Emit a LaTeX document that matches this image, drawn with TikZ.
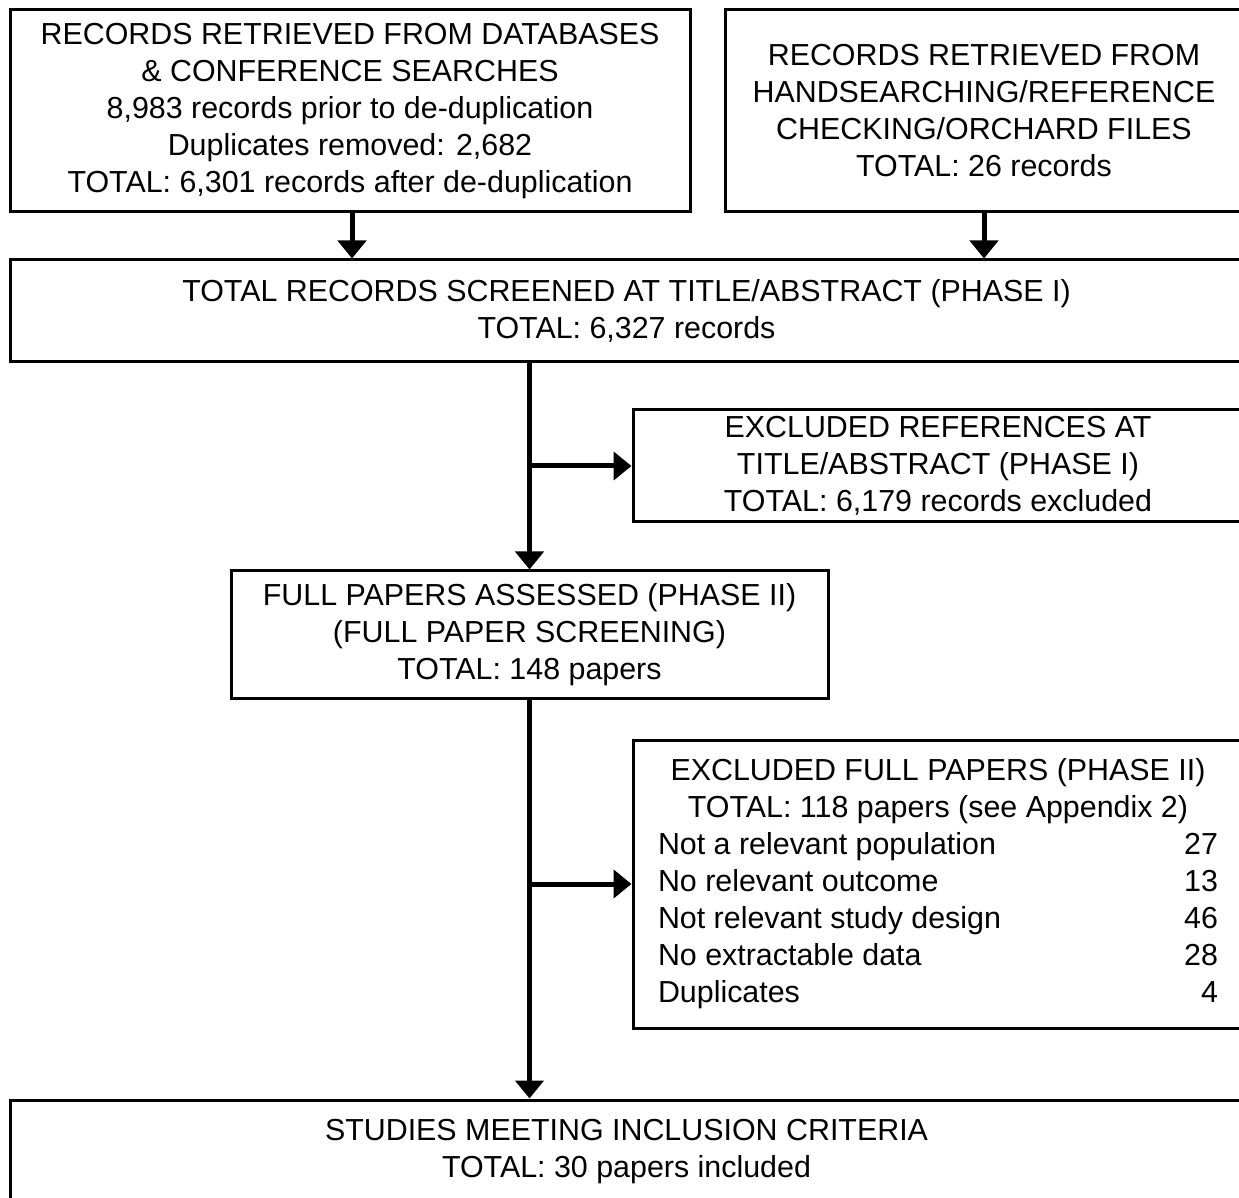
\documentclass[tikz,border=0pt]{standalone}
\usepackage{fontspec}
\setmainfont{Liberation Sans}
\usetikzlibrary{arrows.meta}

\begin{document}
\begin{tikzpicture}[x=0.5pt, y=-0.5pt,
  box/.style={draw, line width=1.5pt, inner sep=0pt, align=center,
    font=\fontsize{15.2}{18.5}\selectfont},
  arrow/.style={line width=2.5pt, -{Triangle[length=9pt,width=14pt]}}]
\useasboundingbox (0,0) rectangle (1239,1198);
\clip (0,0) rectangle (1239,1198);

% Records retrieved
\node[box, minimum width=340pt, minimum height=101pt] (dbsearch) at (350,111)
  {RECORDS RETRIEVED FROM DATABASES\\ \& CONFERENCE SEARCHES\\
   8,983 records prior to de-duplication\\ Duplicates removed: 2,682\\
   TOTAL: 6,301 records after de-duplication};
\node[box, minimum width=259pt, minimum height=101pt] (handsearch) at (984,111)
  {RECORDS RETRIEVED FROM\\ HANDSEARCHING/REFERENCE\\
   CHECKING/ORCHARD FILES\\ TOTAL: 26 records};

% Screening phases
\node[box, minimum width=616.5pt, minimum height=51pt] (screened) at (626.5,311)
  {TOTAL RECORDS SCREENED AT TITLE/ABSTRACT (PHASE I)\\ TOTAL: 6,327 records};
\node[box, minimum width=305pt, minimum height=56pt] (excltitle) at (938,466)
  {EXCLUDED REFERENCES AT\\ TITLE/ABSTRACT (PHASE I)\\
   TOTAL: 6,179 records excluded};
\node[box, minimum width=298.5pt, minimum height=64pt] (fullpapers) at (529.5,635)
  {FULL PAPERS ASSESSED (PHASE II)\\ (FULL PAPER SCREENING)\\ TOTAL: 148 papers};
\node[box, minimum width=305pt, minimum height=144pt] (exclfull) at (938,884)
  {EXCLUDED FULL PAPERS (PHASE II)\\ TOTAL: 118 papers (see Appendix 2)\\
   \makebox[280pt]{Not a relevant population\hfill 27}\\
   \makebox[280pt]{No relevant outcome\hfill 13}\\
   \makebox[280pt]{Not relevant study design\hfill 46}\\
   \makebox[280pt]{No extractable data\hfill 28}\\
   \makebox[280pt]{Duplicates\hfill 4}};
\node[box, minimum width=616.5pt, minimum height=51.5pt] (included) at (626.5,1151.5)
  {STUDIES MEETING INCLUSION CRITERIA\\ TOTAL: 30 papers included};

% Connecting arrows
\draw[arrow] ([xshift=1pt]dbsearch.south) -- ([xshift=1pt]dbsearch.south |- screened.north);
\draw[arrow] (handsearch.south) -- (handsearch.south |- screened.north);
\draw[arrow] (fullpapers.north |- screened.south) -- (fullpapers.north);
\draw[arrow] (fullpapers.north |- excltitle.west) -- (excltitle.west);
\draw[arrow] (fullpapers.south) -- (fullpapers.south |- included.north);
\draw[arrow] (fullpapers.south |- exclfull.west) -- (exclfull.west);
\end{tikzpicture}
\end{document}
